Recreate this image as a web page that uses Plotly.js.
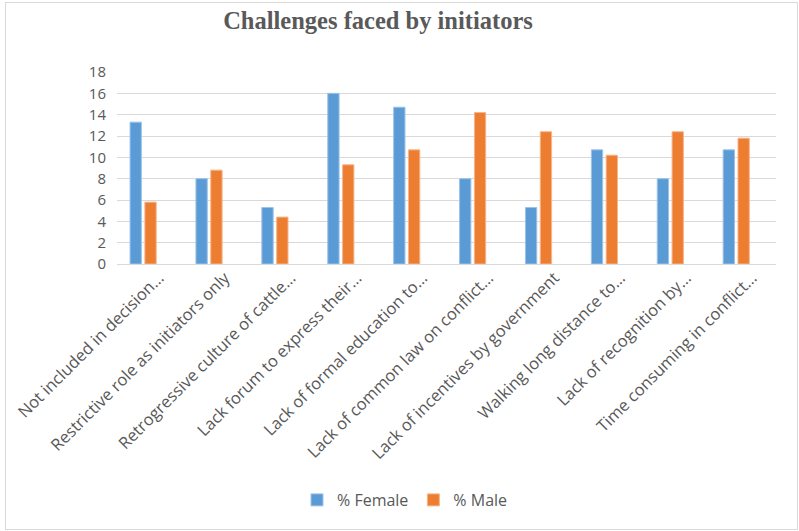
<!DOCTYPE html>
<html>
<head>
<meta charset="utf-8">
<script src="https://cdn.plot.ly/plotly-3.0.1.min.js"></script>
<style>
  html, body { margin: 0; padding: 0; background: #fff; }
  #wrap { position: relative; width: 799px; height: 531px; }
  #chart { position: absolute; left: 0; top: 0; width: 799px; height: 531px; }
  #frame { position: absolute; left: 5px; top: 2px; width: 791px; height: 526px; border: 1px solid #d9d9d9; pointer-events: none; }
</style>
</head>
<body>
<div id="wrap"><div id="chart"></div><div id="frame"></div></div>
<script>
const categories = [
  "Not included in decision…",
  "Restrictive role as initiators only",
  "Retrogressive culture of cattle…",
  "Lack forum to express their…",
  "Lack of formal education to…",
  "Lack of common law on conflict…",
  "Lack of incentives by government",
  "Walking long distance to…",
  "Lack of recognition by…",
  "Time consuming in conflict…"
];
const femaleValues = [13.3, 8.0, 5.3, 16.0, 14.7, 8.0, 5.3, 10.7, 8.0, 10.7];
const maleValues = [5.8, 8.8, 4.4, 9.3, 10.7, 14.2, 12.4, 10.2, 12.4, 11.8];
const yTicks = [0, 2, 4, 6, 8, 10, 12, 14, 16, 18];

const textColor = '#595959';
const font = 'Open Sans, Liberation Sans, sans-serif';

const traces = [
  {
    type: 'bar', name: '% Female', x: categories, y: femaleValues,
    width: 0.172, offset: -0.302,
    marker: { color: '#5B9BD5', line: { color: '#9cc3e8', width: 1 } },
    hoverinfo: 'y'
  },
  {
    type: 'bar', name: '% Male', x: categories, y: maleValues,
    width: 0.172, offset: -0.077,
    marker: { color: '#ED7D31', line: { color: '#f5b68c', width: 1 } },
    hoverinfo: 'y'
  }
];

const layout = {
  width: 799, height: 531,
  margin: { l: 117, r: 23, t: 72, b: 267 },
  paper_bgcolor: 'rgba(0,0,0,0)', plot_bgcolor: '#fff',
  title: {
    text: 'Challenges faced by initiators',
    font: { family: 'Liberation Serif, Times New Roman, serif', size: 24.5, color: textColor, weight: 'bold' },
    xref: 'container', x: 378 / 799, xanchor: 'center',
    yref: 'container', y: 1 - 20 / 531, yanchor: 'middle'
  },
  barmode: 'group',
  xaxis: {
    type: 'category',
    tickangle: -45,
    tickfont: { family: font, size: 16.5, color: textColor },
    ticklabelshift: 9,
    showgrid: false, showline: false, ticks: '', zeroline: false
  },
  yaxis: {
    range: [0, 18],
    tickvals: yTicks,
    ticktext: yTicks.map(String),
    tickfont: { family: font, size: 15, color: textColor },
    showgrid: true, gridcolor: '#d9d9d9', gridwidth: 1,
    zeroline: true, zerolinecolor: '#d9d9d9', zerolinewidth: 1,
    showline: false, ticks: '', ticklabelstandoff: 10
  },
  showlegend: true,
  legend: {
    orientation: 'h',
    xref: 'container', x: 405 / 799, xanchor: 'center',
    yref: 'container', y: 1 - 500 / 531, yanchor: 'middle',
    font: { family: font, size: 16, color: textColor },
    itemwidth: 30
  }
};

Plotly.newPlot('chart', traces, layout, { displayModeBar: false, staticPlot: true });
</script>
</body>
</html>
